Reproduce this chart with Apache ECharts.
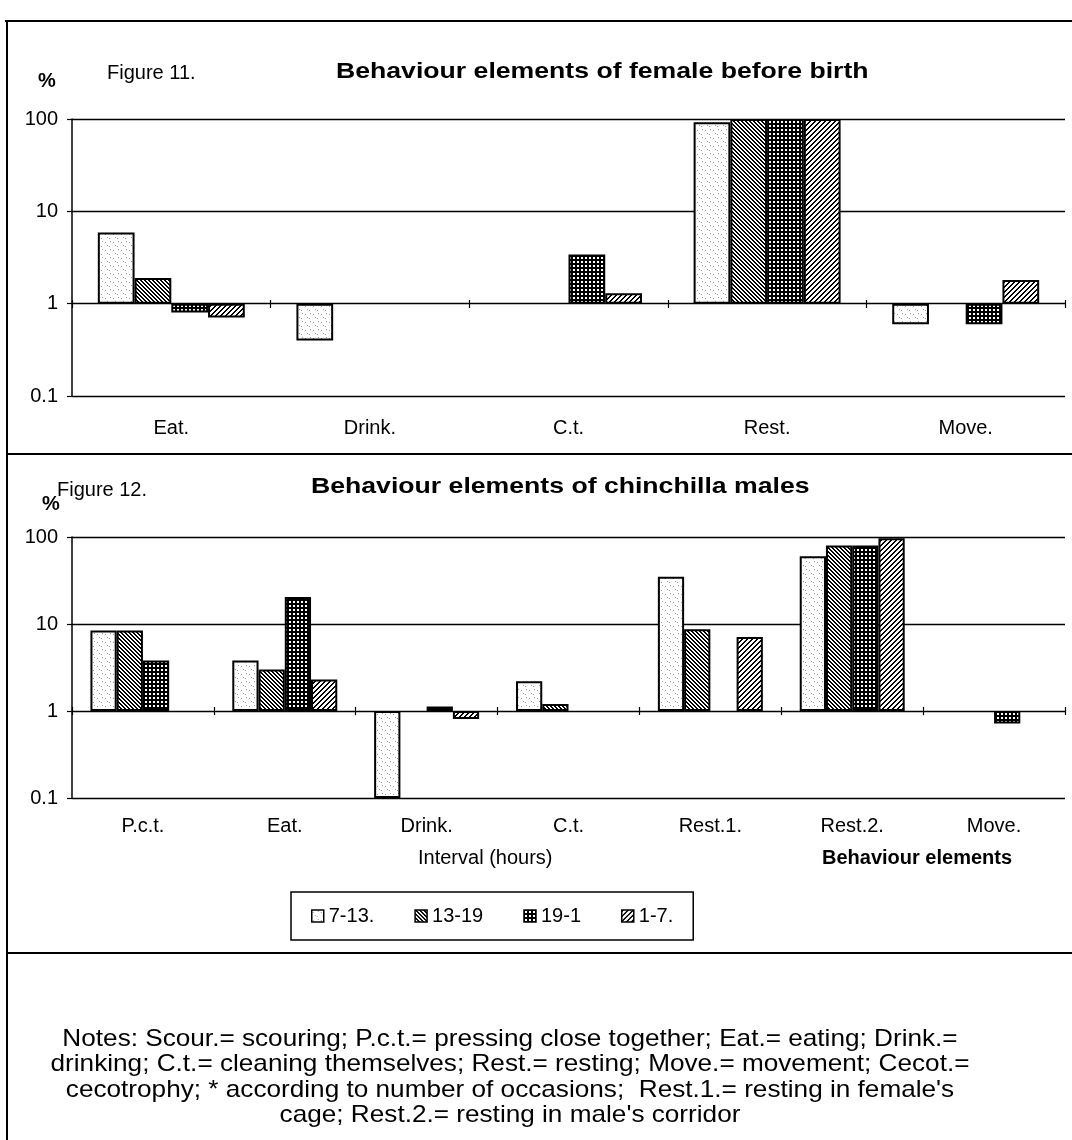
<!DOCTYPE html>
<html>
<head>
<meta charset="utf-8">
<script src="https://cdn.jsdelivr.net/npm/echarts@6/dist/echarts.min.js"></script>
<style>
html,body{margin:0;padding:0;background:#fff;}
#chart{width:1072px;height:1140px;}
</style>
</head>
<body>
<div id="chart"></div>
<script>
// ---------- data ----------
const seriesNames = ['7-13.', '13-19', '19-1', '1-7.'];

const fig11Categories = ['Eat.', 'Drink.', 'C.t.', 'Rest.', 'Move.'];
const fig11_7_13  = [5.9, 0.4, null, 92, 0.6];
const fig11_13_19 = [1.9, null, null, 100, null];
const fig11_19_1  = [0.8, null, 3.4, 100, 0.6];
const fig11_1_7   = [0.71, null, 1.3, 100, 1.8];

const fig12Categories = ['P.c.t.', 'Eat.', 'Drink.', 'C.t.', 'Rest.1.', 'Rest.2.', 'Move.'];
const fig12_7_13  = [8.4, 3.8, 0.1, 2.2, 35, 60, null];
const fig12_13_19 = [8.4, 3.0, null, 1.2, 8.7, 80, null];
const fig12_19_1  = [3.8, 20.5, 1.13, null, null, 80, 0.72];
const fig12_1_7   = [null, 2.3, 0.81, null, 7.1, 97, null];

const yTickLabels = ['0.1', '1', '10', '100'];

const fig11Title = 'Behaviour elements of female before birth';
const fig12Title = 'Behaviour elements of chinchilla males';
const notesLines = [
  'Notes: Scour.= scouring; P.c.t.= pressing close together; Eat.= eating; Drink.=',
  'drinking; C.t.= cleaning themselves; Rest.= resting; Move.= movement; Cecot.=',
  'cecotrophy; * according to number of occasions;  Rest.1.= resting in female\'s',
  'cage; Rest.2.= resting in male\'s corridor'
];

// ---------- patterns ----------
function makePattern(size, draw) {
  const c = document.createElement('canvas');
  c.width = size; c.height = size;
  const ctx = c.getContext('2d');
  draw(ctx, size);
  return { image: c, repeat: 'repeat' };
}
const patDots = makePattern(8, (ctx) => {
  ctx.fillStyle = '#fff'; ctx.fillRect(0, 0, 8, 8);
  ctx.fillStyle = '#9a9a9a';
  [[1,2],[5,6],[6,1],[3,5]].forEach(p => ctx.fillRect(p[0], p[1], 1, 1));
});
const patBack = makePattern(4, (ctx) => {
  ctx.fillStyle = '#fff'; ctx.fillRect(0, 0, 4, 4);
  ctx.fillStyle = '#000';
  for (let x = 0; x < 4; x++) for (let y = 0; y < 4; y++) {
    const d = ((x - y) % 4 + 4) % 4;
    if (d === 0 || d === 1) ctx.fillRect(x, y, 1, 1);
  }
});
const patGrid = makePattern(4, (ctx) => {
  ctx.fillStyle = '#000'; ctx.fillRect(0, 0, 4, 4);
  ctx.fillStyle = '#fff'; ctx.fillRect(1, 1, 2, 2);
});
const patFwd = makePattern(5, (ctx) => {
  ctx.fillStyle = '#fff'; ctx.fillRect(0, 0, 5, 5);
  ctx.fillStyle = '#000';
  for (let x = 0; x < 5; x++) for (let y = 0; y < 5; y++) {
    const d = (x + y) % 5;
    if (d === 0 || d === 1) ctx.fillRect(x, y, 1, 1);
  }
});
const patterns = [patDots, patBack, patGrid, patFwd];

// ---------- chart ----------
const FONT = '"Liberation Sans", Arial, sans-serif';
const chart = echarts.init(document.getElementById('chart'), null, { renderer: 'canvas' });

function yAxisCfg(gridIndex) {
  return {
    type: 'log', logBase: 10, min: 0.1, max: 100, gridIndex: gridIndex,
    axisLine: { show: true, lineStyle: { color: '#000', width: 1.5 } },
    axisTick: { show: true, length: 5, lineStyle: { color: '#000', width: 1.2 } },
    axisLabel: { color: '#000', fontSize: 20, fontFamily: FONT, margin: 14,
      formatter: v => { const s = String(+v.toPrecision(3)); return yTickLabels.indexOf(s) >= 0 ? s : ''; } },
    splitLine: { show: true, lineStyle: { color: '#000', width: 1.3 } }
  };
}
function xAxisCfg(gridIndex, cats, margin) {
  return {
    type: 'category', data: cats, gridIndex: gridIndex, position: 'bottom',
    axisLine: { show: false }, axisTick: { show: false },
    axisLabel: { color: '#000', fontSize: 20, fontFamily: FONT, margin: margin, interval: 0 }
  };
}
function tickAxisCfg(gridIndex, cats, offset) {
  return {
    type: 'category', data: cats, gridIndex: gridIndex, position: 'bottom', offset: offset,
    axisLine: { show: false },
    axisTick: { show: true, length: 8, lineStyle: { color: '#000', width: 1.2 } },
    axisLabel: { show: false }
  };
}
function barSeries(name, data, idx, xIdx, yIdx) {
  return {
    type: 'bar', name: name, data: data, xAxisIndex: xIdx, yAxisIndex: yIdx,
    barGap: '0%', barCategoryGap: '26%',
    itemStyle: { color: patterns[idx], borderColor: '#000', borderWidth: 2 },
    emphasis: { disabled: true }
  };
}

const fig11Data = [fig11_7_13, fig11_13_19, fig11_19_1, fig11_1_7];
const fig12Data = [fig12_7_13, fig12_13_19, fig12_19_1, fig12_1_7];

const series = [];
seriesNames.forEach((n, i) => series.push(barSeries(n, fig11Data[i], i, 0, 0)));
seriesNames.forEach((n, i) => series.push(barSeries(n, fig12Data[i], i, 2, 1)));

function txt(text, x, y, size, bold, align, scaleX) {
  return {
    type: 'text', x: x, y: y, scaleX: scaleX || 1, silent: true,
    style: { text: text, fill: '#000', font: (bold ? 'bold ' : '') + size + 'px ' + FONT,
      textAlign: align || 'left', textVerticalAlign: 'middle' }
  };
}
function line(x1, y1, x2, y2, w) {
  return { type: 'line', silent: true, shape: { x1, y1, x2, y2 }, style: { stroke: '#000', lineWidth: w || 2 } };
}

const graphics = [
  line(5, 21, 1072, 21, 2),
  line(7, 21, 7, 1140, 2),
  line(7, 454, 1072, 454, 2),
  line(7, 953, 1072, 953, 2),
  txt('%', 38, 81, 20, true),
  txt('Figure 11.', 107, 73, 20, false),
  txt(fig11Title, 336, 72, 22, true, 'left', 1.21),
  txt('%', 42, 504, 20, true),
  txt('Figure 12.', 57, 490, 20, false),
  txt(fig12Title, 311, 487, 22, true, 'left', 1.21),
  txt('Interval (hours)', 418, 858, 20, false),
  txt('Behaviour elements', 822, 858, 20, true)
];
notesLines.forEach((t, i) => graphics.push(txt(t, 510, 1039 + i * 25.5, 24, false, 'center', 1.09)));

chart.setOption({
  animation: false,
  backgroundColor: '#fff',
  textStyle: { fontFamily: FONT },
  grid: [
    { left: 72, top: 119, width: 993, height: 277 },
    { left: 72, top: 537, width: 993, height: 261 }
  ],
  xAxis: [
    xAxisCfg(0, fig11Categories, 22),
    tickAxisCfg(0, fig11Categories, -96),
    xAxisCfg(1, fig12Categories, 18),
    tickAxisCfg(1, fig12Categories, -91)
  ],
  yAxis: [yAxisCfg(0), yAxisCfg(1)],
  legend: {
    data: seriesNames.map(n => ({ name: n, icon: 'rect' })),
    left: 291, top: 892, orient: 'horizontal',
    padding: [14, 20, 14, 20], itemWidth: 12, itemHeight: 12, itemGap: 40,
    borderColor: '#000', borderWidth: 1.5, selectedMode: false,
    textStyle: { color: '#000', fontSize: 20, fontFamily: FONT },
    itemStyle: { borderColor: '#000', borderWidth: 1.5 }
  },
  graphic: graphics,
  series: series
});
</script>
</body>
</html>
